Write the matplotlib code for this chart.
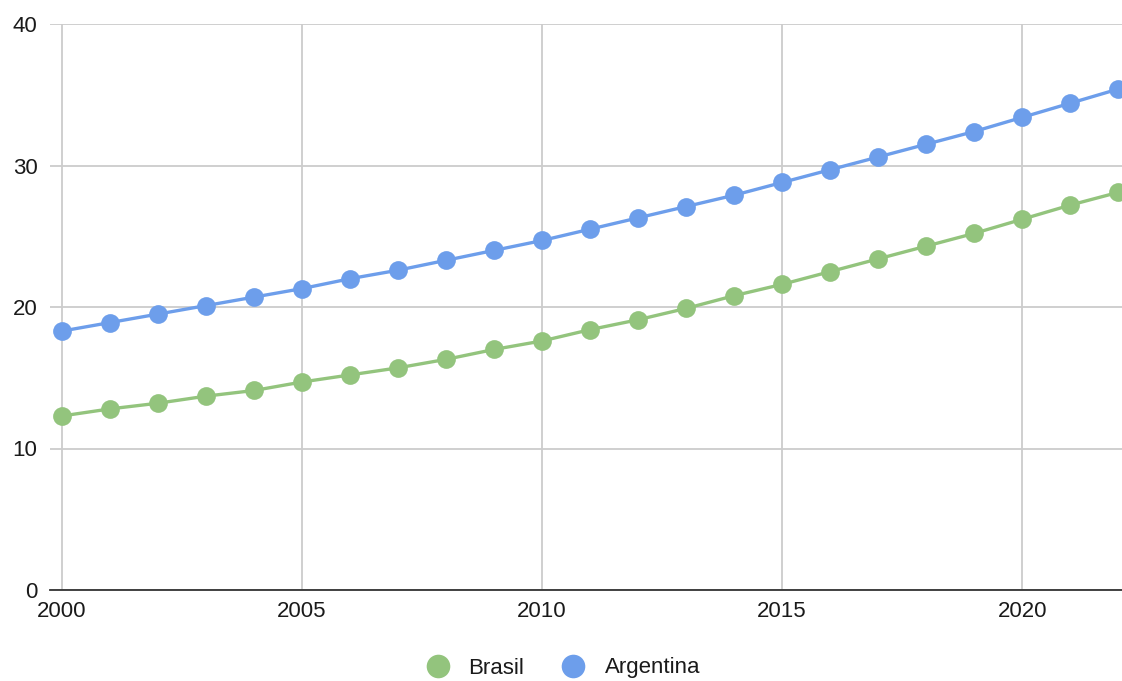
import matplotlib.pyplot as plt
from matplotlib.lines import Line2D

years = list(range(2000, 2023))
brasil = [12.3, 12.8, 13.2, 13.7, 14.1, 14.7, 15.2, 15.7, 16.3, 17.0, 17.6, 18.4,
          19.1, 19.9, 20.8, 21.6, 22.5, 23.4, 24.3, 25.2, 26.2, 27.2, 28.1]
argentina = [18.3, 18.9, 19.5, 20.1, 20.7, 21.3, 22.0, 22.6, 23.3, 24.0, 24.7, 25.5,
             26.3, 27.1, 27.9, 28.8, 29.7, 30.6, 31.5, 32.4, 33.4, 34.4, 35.4]
series_names = ['Brasil', 'Argentina']
colors = ['#93c47d', '#6d9eeb']

plt.rcParams['font.family'] = ['Liberation Sans', 'DejaVu Sans']

fig = plt.figure(figsize=(11.22, 6.81), dpi=100)
ax = fig.add_axes([50 / 1122, 1 - 590 / 681, 1 - 50 / 1122, (590 - 24) / 681])

for vals, name, col in zip([brasil, argentina], series_names, colors):
    ax.plot(years, vals, color=col, linewidth=2.4, marker='o', markersize=13.5,
            markeredgewidth=0, label=name, zorder=3)

ax.set_xlim(1999.75, 2022.08)
ax.set_ylim(0, 40)
ax.set_xticks([2000, 2005, 2010, 2015, 2020])
ax.set_yticks([0, 10, 20, 30, 40])
ax.grid(True, color='#cccccc', linewidth=1.3)
ax.set_axisbelow(True)
ax.tick_params(length=0, labelsize=16, colors='#1a1a1a')
ax.tick_params(axis='y', pad=9)
ax.tick_params(axis='x', pad=8)
for s in ['top', 'right', 'left']:
    ax.spines[s].set_visible(False)
ax.spines['bottom'].set_color('#333333')
ax.spines['bottom'].set_linewidth(1.3)
ax.spines['bottom'].set_zorder(2)

handles = [Line2D([], [], linestyle='none', marker='o', markersize=17,
                  markeredgewidth=0, color=c) for c in colors]
fig.legend(handles, series_names, loc='center', bbox_to_anchor=(0.497, 1 - 668 / 681),
           ncol=2, frameon=False, fontsize=16, handletextpad=0.4, columnspacing=1.2,
           labelcolor='#1a1a1a')

fig.savefig('out.png', dpi=100)
